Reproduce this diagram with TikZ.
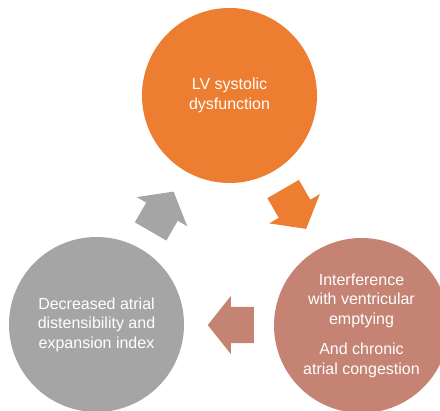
\documentclass[tikz,border=0pt]{standalone}
\usepackage{fontspec}
\setmainfont{Liberation Sans}
\usepackage{tikz}
\usetikzlibrary{shapes,calc}

\definecolor{accorange}{HTML}{ED7D31}
\definecolor{accrose}{HTML}{C48373}
\definecolor{accgray}{HTML}{A5A5A5}

\begin{document}
\begin{tikzpicture}[x=1pt,y=1pt]
\tikzset{
	stage node/.style = {circle, minimum size = 175pt, inner sep = 0, text = white, align = center, font = \fontsize{16}{19.5}\selectfont},
	block arrow/.style = {single arrow, minimum height = 46pt, inner xsep = 0, inner ysep = 18pt, single arrow head extend = 11pt, single arrow tip angle = 103},
}
\useasboundingbox (0,0) rectangle (440,-411);
\clip (0,0) rectangle (440,-411);

\node(lv)[stage node, fill = accorange] at (229.5,-95.5) {LV systolic\\dysfunction};
\node(inter)[stage node, fill = accrose] at (361.5,-325.5) {Interference\\with ventricular\\emptying\\[11pt]And chronic\\atrial congestion};
\node(decr)[stage node, fill = accgray] at (96.5,-324.5) {Decreased atrial\\distensibility and\\expansion index};

\node(lv-inter)[block arrow, fill = accorange, rotate = -60] at ($(lv)!0.5!(inter)!9pt!(lv)$) {};
\node(inter-decr)[block arrow, fill = accrose, rotate = 180] at ($(inter)!0.5!(decr)!9pt!(inter)$) {};
\node(decr-lv)[block arrow, fill = accgray, rotate = 60] at ($(decr)!0.5!(lv)!9pt!(decr)$) {};

\end{tikzpicture}
\end{document}
